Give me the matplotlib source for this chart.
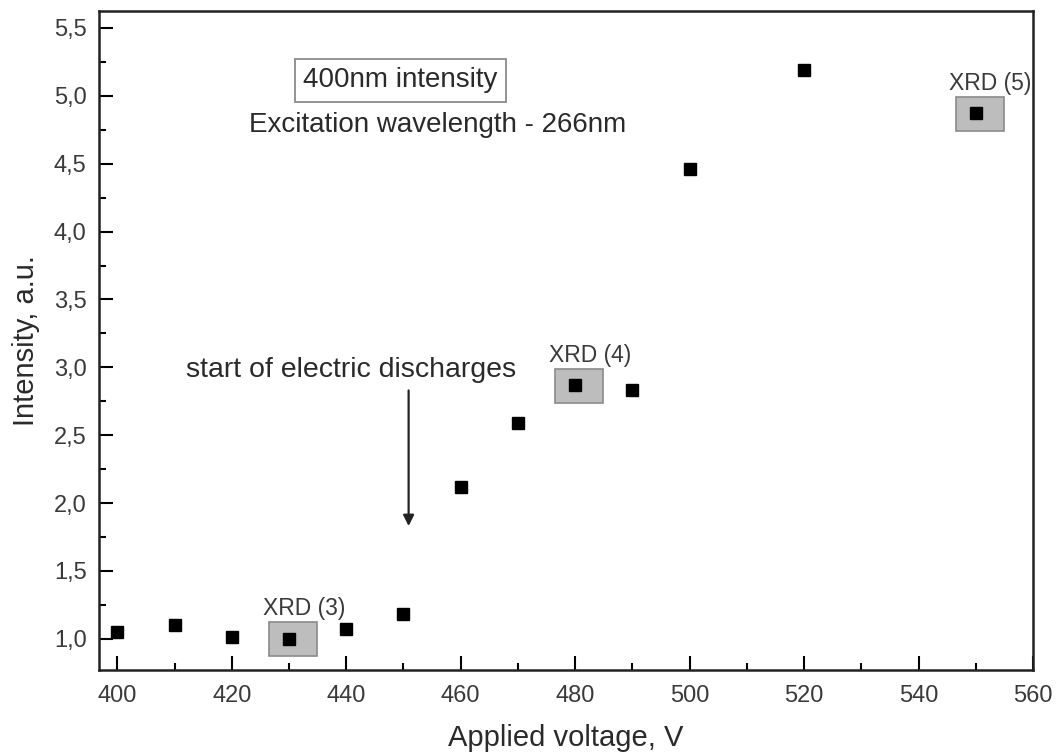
import matplotlib
matplotlib.use('Agg')
import matplotlib.pyplot as plt
from matplotlib.patches import Rectangle
from matplotlib.ticker import MultipleLocator, FuncFormatter

plt.rcParams['font.family'] = ['Liberation Sans', 'DejaVu Sans']

# data
voltage = [400, 410, 420, 430, 440, 450, 460, 470, 480, 490, 500, 520, 550]
intensity = [1.05, 1.10, 1.01, 1.00, 1.07, 1.18, 2.12, 2.59, 2.87, 2.83, 4.46, 5.19, 4.87]

xrd_voltage = [430, 480, 550]
xrd_intensity = [1.00, 2.87, 4.87]
xrd_labels = ['XRD (3)', 'XRD (4)', 'XRD (5)']

fig = plt.figure(figsize=(10.61, 7.55), dpi=100)
ax = fig.add_axes([99 / 1061, 85 / 755, (1033 - 99) / 1061, (670 - 11) / 755])

ax.set_xlim(396.8, 560)
ax.set_ylim(0.77, 5.625)

# grey boxes behind the XRD points
for v, y, lab in zip(xrd_voltage, xrd_intensity, xrd_labels):
    ax.add_patch(Rectangle((v - 3.5, y - 0.13), 8.4, 0.25, facecolor='#bdbdbd',
                           edgecolor='#8a8a8a', lw=1.2, zorder=1))
    ax.text(v + 2.6, y + 0.22, lab, ha='center', va='center', fontsize=16.5, color='#3a3a3a')

ax.plot(voltage, intensity, 's', color='black', ms=8.5, zorder=3)

ax.text(0.323, 0.895, '400nm intensity', transform=ax.transAxes, ha='center', va='center',
        fontsize=20, color='#2a2a2a',
        bbox=dict(boxstyle='square,pad=0.3', facecolor='white', edgecolor='#8a8a8a', lw=1.3))
ax.text(0.363, 0.827, 'Excitation wavelength - 266nm', transform=ax.transAxes,
        ha='center', va='center', fontsize=20, color='#2a2a2a')

ax.annotate('', xy=(450.9, 1.81), xytext=(450.9, 2.85),
            arrowprops=dict(arrowstyle='-|>', color='#222222', lw=1.6, mutation_scale=16))
ax.text(0.270, 0.455, 'start of electric discharges', transform=ax.transAxes,
        ha='center', va='center', fontsize=20.5, color='#2a2a2a')

ax.xaxis.set_major_locator(MultipleLocator(20))
ax.xaxis.set_minor_locator(MultipleLocator(10))
ax.yaxis.set_major_locator(MultipleLocator(0.5))
ax.yaxis.set_minor_locator(MultipleLocator(0.25))
ax.yaxis.set_major_formatter(FuncFormatter(lambda v, p: f'{v:.1f}'.replace('.', ',')))

ax.tick_params(which='major', direction='in', length=10, width=1.5, labelsize=17,
               labelcolor='#3a3a3a')
ax.tick_params(axis='x', which='major', pad=11)
ax.tick_params(axis='y', which='major', pad=9)
ax.tick_params(which='minor', direction='in', length=5, width=1.5)
for s in ax.spines.values():
    s.set_linewidth(1.8)
    s.set_color('#222222')

ax.set_xlabel('Applied voltage, V', fontsize=21, color='#2a2a2a', labelpad=12)
ax.set_ylabel('Intensity, a.u.', fontsize=21, color='#2a2a2a', labelpad=10)

fig.savefig('out.png', dpi=100)
